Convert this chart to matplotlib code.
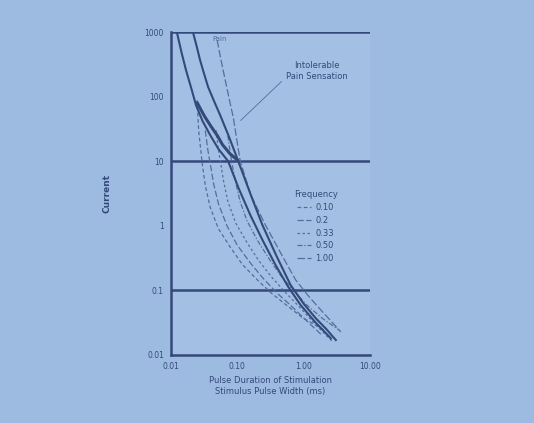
import matplotlib.pyplot as plt
from matplotlib.ticker import FixedLocator, NullLocator

# Data (log-log)
x_ticks = [0.01, 0.1, 1.0, 10.0]
x_tick_labels = ["0.01", "0.10", "1.00", "10.00"]
y_ticks = [1000, 100, 10, 1, 0.1, 0.01]
y_tick_labels = ["1000", "100", "10", "1", "0.1", "0.01"]
grid_levels = [1000, 10, 0.1]

# solid threshold curves
solid_a_x = [0.0123, 0.0145, 0.0169, 0.0205, 0.0239, 0.030, 0.039, 0.052, 0.073, 0.105, 0.157, 0.24, 0.377, 0.58, 0.90, 1.5, 2.57]
solid_a_y = [1000, 480, 258, 130, 74, 42, 25.5, 15.5, 10, 3.8, 1.47, 0.6, 0.247, 0.115, 0.059, 0.032, 0.018]
solid_b_x = [0.0215, 0.0245, 0.0275, 0.0315, 0.0364, 0.045, 0.0552, 0.075, 0.1035, 0.16, 0.239, 0.39, 0.635, 1.0, 1.52, 2.2, 3.05]
solid_b_y = [1000, 600, 369, 230, 141, 84, 51.9, 24, 10, 3.0, 1.03, 0.34, 0.121, 0.062, 0.037, 0.025, 0.017]
limit_x = [0.025, 0.032, 0.04, 0.05, 0.06, 0.078, 0.1]
limit_y = [80, 50, 35, 25, 18, 13, 10.5]

# dashed family
legend_title = "Frequency"
series_labels = ["0.10", "0.2", "0.33", "0.50", "1.00"]
series_x = [
    [0.0248, 0.0262, 0.0295, 0.033, 0.039, 0.052, 0.078, 0.12, 0.201, 0.32, 0.498, 0.95, 2.01],
    [0.033, 0.036, 0.039, 0.044, 0.052, 0.07, 0.1, 0.16, 0.25, 0.4, 0.62, 1.1, 1.9],
    [0.048, 0.0515, 0.0552, 0.062, 0.072, 0.095, 0.14, 0.21, 0.33, 0.52, 0.8, 1.4, 2.75],
    [0.072, 0.078, 0.084, 0.095, 0.11, 0.14, 0.2, 0.3, 0.45, 0.7, 1.1, 1.9, 3.39],
    [0.0498, 0.056, 0.0658, 0.076, 0.087, 0.098, 0.111, 0.16, 0.265, 0.45, 0.757, 1.2, 1.81, 3.63],
]
series_y = [
    [88, 30, 9.7, 4.2, 1.95, 0.9, 0.47, 0.25, 0.145, 0.092, 0.064, 0.038, 0.0244],
    [30, 15, 9.4, 4.5, 2.2, 1.0, 0.5, 0.26, 0.15, 0.09, 0.06, 0.034, 0.02],
    [30, 16, 10.5, 5.0, 2.4, 1.1, 0.55, 0.29, 0.16, 0.095, 0.06, 0.032, 0.0158],
    [25, 14, 8.7, 4.6, 2.4, 1.2, 0.6, 0.31, 0.17, 0.1, 0.06, 0.037, 0.0244],
    [752, 400, 181, 90, 48, 22, 10, 3.0, 1.03, 0.38, 0.145, 0.08, 0.0498, 0.0227],
]

bg = "#9dbbe1"
dark = "#34497a"
mid = "#566c9c"

fig = plt.figure(figsize=(5.34, 4.23), dpi=100, facecolor=bg)
ax = fig.add_axes([0.320, 0.161, 0.373, 0.763], facecolor="#a3c0e4")
ax.set_xscale("log")
ax.set_yscale("log")
ax.set_xlim(0.01, 10)
ax.set_ylim(0.01, 1000)

for lv in grid_levels:
    ax.axhline(lv, color=dark, lw=1.8, zorder=1)

ax.plot(solid_a_x, solid_a_y, color=dark, lw=1.5, zorder=3)
ax.plot(solid_b_x, solid_b_y, color=dark, lw=1.5, zorder=3)
ax.plot(limit_x, limit_y, color=dark, lw=2.2, zorder=3)

dashes = [(3, 2), (5, 2), (2, 2), (4, 1.5, 1, 1.5), (6, 2)]
handles = []
for xs, ys, lab, d in zip(series_x, series_y, series_labels, dashes):
    h, = ax.plot(xs, ys, color=mid, lw=0.9, dashes=d, label=lab, zorder=2)
    handles.append(h)

ax.text(0.055, 860, "Pain", fontsize=5, color=mid, ha="center", va="top")
ax.annotate("Intolerable\nPain Sensation", xy=(0.105, 40), xytext=(1.6, 250),
            fontsize=6, color=dark, ha="center", va="center",
            arrowprops=dict(arrowstyle="-", color=mid, lw=0.6,
                            relpos=(0.0, 0.2)))

leg = ax.legend(handles=handles, title=legend_title, loc="upper left",
                bbox_to_anchor=(0.6, 0.52), frameon=False, fontsize=6,
                title_fontsize=6, handlelength=1.6, labelspacing=0.45,
                handletextpad=0.6, borderaxespad=0)
for t in leg.get_texts():
    t.set_color(dark)
leg.get_title().set_color(dark)

for s in ["top", "right"]:
    ax.spines[s].set_visible(False)
ax.spines["left"].set_color(dark)
ax.spines["left"].set_linewidth(1.8)
ax.spines["bottom"].set_color(dark)
ax.spines["bottom"].set_linewidth(1.8)

ax.xaxis.set_major_locator(FixedLocator(x_ticks))
ax.xaxis.set_minor_locator(NullLocator())
ax.set_xticklabels(x_tick_labels)
ax.yaxis.set_major_locator(FixedLocator(y_ticks))
ax.yaxis.set_minor_locator(NullLocator())
ax.set_yticklabels(y_tick_labels)
ax.tick_params(axis="both", length=0, labelsize=5.5, colors=dark, pad=5)

ax.set_xlabel("Pulse Duration of Stimulation\nStimulus Pulse Width (ms)",
              fontsize=6, color=dark, labelpad=4)
ax.set_ylabel("Current", fontsize=6.5, color=dark, labelpad=24,
              fontweight="bold")

fig.savefig("out.png", dpi=100, facecolor=bg)
